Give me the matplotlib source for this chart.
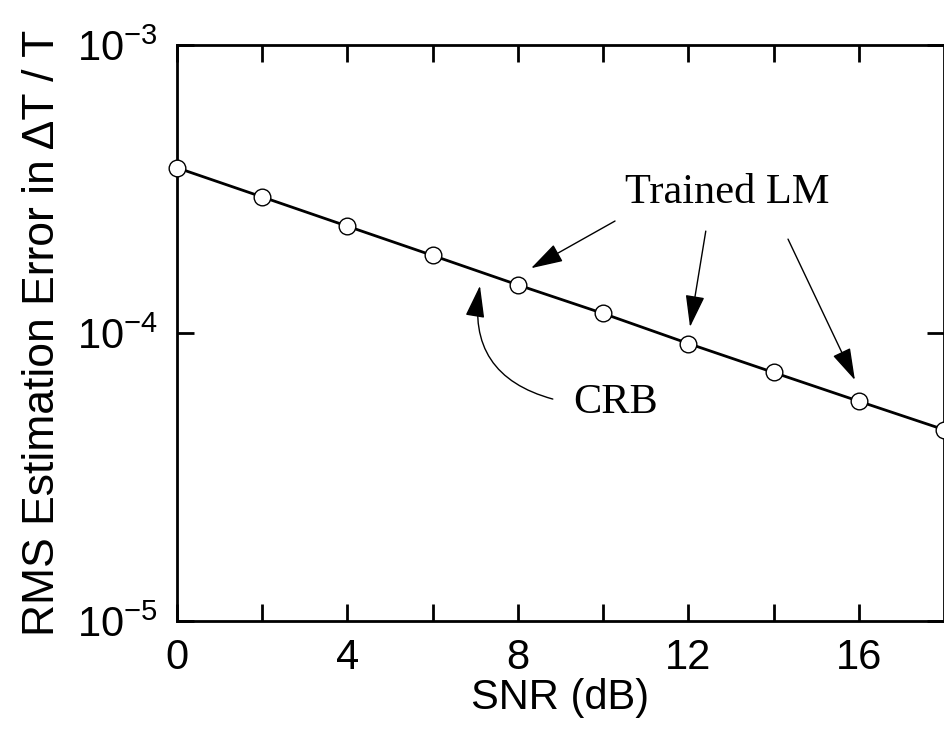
import matplotlib
matplotlib.use('Agg')
import matplotlib.pyplot as plt
from matplotlib.ticker import FixedLocator, NullLocator

plt.rcParams['font.family'] = ['Liberation Sans', 'DejaVu Sans']
plt.rcParams['mathtext.fontset'] = 'custom'
plt.rcParams['mathtext.rm'] = 'Liberation Sans'
plt.rcParams['mathtext.default'] = 'regular'

# values
snr_db = [0, 2, 4, 6, 8, 10, 12, 14, 16, 18]
rms_err = [3.75e-4, 2.97e-4, 2.35e-4, 1.86e-4, 1.47e-4,
           1.17e-4, 9.2e-5, 7.3e-5, 5.8e-5, 4.62e-5]
x_ticks = [0, 4, 8, 12, 16]
x_minor = [2, 6, 10, 14]
y_ticks = [1e-5, 1e-4, 1e-3]

fig = plt.figure(figsize=(9.45, 7.29), dpi=100)
ax = fig.add_axes([0.1873, 0.1481, 0.8116, 0.790])

ax.plot(snr_db, rms_err, color='black', lw=2.0, marker='o', ms=12,
        mfc='white', mec='black', mew=1.0, clip_on=False, zorder=3)

ax.set_yscale('log')
ax.set_xlim(0, 18)
ax.set_ylim(1e-5, 1e-3)
ax.xaxis.set_major_locator(FixedLocator(x_ticks))
ax.xaxis.set_minor_locator(FixedLocator(x_minor))
ax.yaxis.set_major_locator(FixedLocator(y_ticks))
ax.yaxis.set_minor_locator(NullLocator())

ax.tick_params(which='both', direction='in', top=True, right=True,
               length=12, width=2, labelsize=30)
ax.tick_params(axis='x', pad=12)
ax.tick_params(axis='y', pad=14)
for s in ax.spines.values():
    s.set_linewidth(2)

ax.set_xlabel('SNR (dB)', fontsize=30, labelpad=0)
ax.set_ylabel('RMS Estimation Error in \u0394T / T', fontsize=32, labelpad=10)

# annotations
serif = dict(family=['Liberation Serif', 'DejaVu Serif'], fontsize=30.5)
ax.text(12.91, 3.08e-4, 'Trained LM', ha='center', va='center', **serif)
ax.text(10.3, 5.71e-5, 'CRB', ha='center', va='center', **serif)

arrow = dict(arrowstyle='-|>,head_length=1.0,head_width=0.3', color='black',
             lw=1.0, shrinkA=0, shrinkB=0, mutation_scale=20)
ax.annotate('', xy=(8.31, 1.68e-4), xytext=(10.28, 2.45e-4),
            arrowprops=arrow)
ax.annotate('', xy=(12.04, 1.05e-4), xytext=(12.41, 2.26e-4),
            arrowprops=arrow)
ax.annotate('', xy=(15.91, 6.87e-5), xytext=(14.34, 2.12e-4),
            arrowprops=arrow)
ax.annotate('', xy=(7.11, 1.46e-4), xytext=(8.82, 5.9e-5),
            arrowprops=dict(arrow, connectionstyle='arc3,rad=-0.45'))

fig.savefig('out.png', dpi=100)
